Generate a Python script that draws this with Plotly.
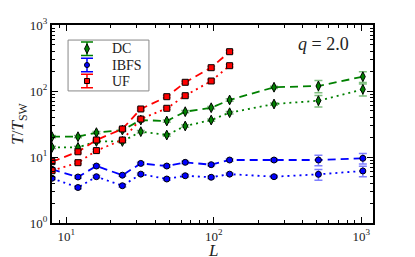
import numpy as np
import plotly.graph_objects as go

# ---- data ----
L_all = [8, 12, 16, 24, 32, 48, 64, 96, 128, 256, 512, 1024]
L_uf = [8, 12, 16, 24, 32, 48, 64, 96, 128]

dc_dash = [20.3, 20.3, 23.4, 25.6, 36.3, 35.1, 48.6, 55.8, 73.1, 114, 119, 165]
dc_dash_err = [0.8, 0.8, 0.9, 1.0, 1.4, 1.4, 1.9, 2.2, 2.9, 4.5, 25, 30]
dc_dot = [14.0, 14.0, 17.2, 17.2, 24.2, 21.5, 29.5, 36.3, 46.9, 63.5, 71.3, 106]
dc_dot_err = [0.6, 0.6, 0.7, 0.7, 1.0, 0.9, 1.2, 1.5, 1.9, 2.5, 14, 22]

ibfs_dash = [6.5, 4.98, 7.3, 5.3, 8.0, 7.3, 8.3, 7.65, 9.0, 9.0, 9.0, 9.55]
ibfs_dash_err = [0.26, 0.2, 0.3, 0.21, 0.32, 0.3, 0.33, 0.3, 0.36, 0.4, 1.6, 1.7]
ibfs_dot = [4.76, 3.45, 5.03, 3.67, 5.5, 4.64, 5.2, 4.93, 5.5, 5.03, 5.46, 6.14]
ibfs_dot_err = [0.19, 0.14, 0.2, 0.15, 0.22, 0.19, 0.21, 0.2, 0.22, 0.2, 1.0, 1.1]

uf_dash = [8.5, 12.0, 18.1, 26.6, 53.4, 82, 135.5, 225.5, 394]
uf_dash_err = [0.34, 0.5, 0.7, 1.1, 2.1, 3.3, 5.4, 10, 18]
uf_dot = [6.2, 8.2, 12.5, 18.1, 37.6, 54.7, 84.9, 141.8, 241.7]
uf_dot_err = [0.25, 0.33, 0.5, 0.7, 1.5, 2.2, 3.4, 6.5, 11]

x_tickvals = [10, 100, 1000]
x_ticktext = ["10<sup>1</sup>", "10<sup>2</sup>", "10<sup>3</sup>"]
y_tickvals = [1, 10, 100, 1000]
y_ticktext = ["10<sup>0</sup>", "10<sup>1</sup>", "10<sup>2</sup>", "10<sup>3</sup>"]

legend_names = ["DC", "IBFS", "UF"]

FONT = "Liberation Serif"
GREEN, BLUE, RED = "#008000", "#0000ff", "#ff0000"
GREEN_E, BLUE_E, RED_E = "rgba(0,128,0,0.5)", "rgba(0,0,255,0.5)", "rgba(255,0,0,0.5)"

# minor tick positions (2..9 of each decade)
minor_vals = [m * 10 ** e for e in range(0, 4) for m in range(2, 10)]

fig = go.Figure()

def add_series(x, y, err, color, ecolor, symbol, msize, dash):
    fig.add_trace(go.Scatter(
        x=x, y=y, mode="lines+markers",
        line=dict(color=color, width=1.8, dash=dash),
        marker=dict(symbol=symbol, size=msize, color=color,
                    line=dict(color="black", width=1)),
        error_y=dict(type="data", array=err, visible=True,
                     color=ecolor, thickness=1.5, width=4),
        showlegend=False,
    ))

DASH = "8px,5px"
DOT = "2px,4px"
add_series(L_all, dc_dash, dc_dash_err, GREEN, GREEN_E, "diamond-tall", 7, DASH)
add_series(L_all, dc_dot, dc_dot_err, GREEN, GREEN_E, "diamond-tall", 7, DOT)
add_series(L_all, ibfs_dash, ibfs_dash_err, BLUE, BLUE_E, "circle", 6, DASH)
add_series(L_all, ibfs_dot, ibfs_dot_err, BLUE, BLUE_E, "circle", 6, DOT)
add_series(L_uf, uf_dash, uf_dash_err, RED, RED_E, "square", 6, DASH)
add_series(L_uf, uf_dot, uf_dot_err, RED, RED_E, "square", 6, DOT)

# ---- manual legend on an overlay axis (0..1) ----
leg_x = 0.109
leg_y = [0.880, 0.798, 0.717]
leg_colors = [GREEN, BLUE, RED]
leg_symbols = ["diamond-tall", "circle", "square"]
leg_sizes = [7, 5, 5]
for yy, c, s, ms in zip(leg_y, leg_colors, leg_symbols, leg_sizes):
    fig.add_trace(go.Scatter(
        x=[leg_x], y=[yy], mode="markers", xaxis="x2", yaxis="y2",
        marker=dict(symbol=s, size=ms, color=c, line=dict(color="black", width=1)),
        error_y=dict(type="data", array=[0.034], visible=True, color=c,
                     thickness=1.5, width=6),
        showlegend=False, hoverinfo="skip", cliponaxis=False,
    ))
for yy, name in zip(leg_y, legend_names):
    fig.add_annotation(xref="x2", yref="y2", x=0.182, y=yy, text=name,
                       showarrow=False, xanchor="left", yanchor="middle",
                       font=dict(family=FONT, size=14, color="#222"))

fig.add_shape(type="rect", xref="paper", yref="paper",
              x0=0.050, x1=0.302, y0=0.667, y1=0.924,
              line=dict(color="#888", width=1), fillcolor="rgba(255,255,255,0.8)",
              layer="below")

fig.add_annotation(xref="paper", yref="paper", x=0.845, y=0.905,
                   text="<i>q</i> = 2.0", showarrow=False,
                   xanchor="center", yanchor="middle",
                   font=dict(family=FONT, size=18, color="#222"))

# x-axis title as annotation
fig.add_annotation(xref="paper", yref="paper", x=0.502, y=-0.138,
                   text="<i>L</i>", showarrow=False,
                   xanchor="center", yanchor="middle",
                   font=dict(family=FONT, size=17, color="#222"))

axis_common = dict(
    type="log", showgrid=False, zeroline=False, automargin=False,
    showline=True, linecolor="black", linewidth=2, mirror="ticks",
    ticks="inside", ticklen=6, tickwidth=1, tickcolor="black",
    minor=dict(ticks="inside", ticklen=3, tickwidth=1, tickcolor="black",
               showgrid=False, tickmode="array", tickvals=minor_vals),
    tickfont=dict(family=FONT, size=13, color="#222"),
)

# page body has an 8px default margin: size/margins compensate for it
fig.update_layout(
    width=407, height=249,
    margin=dict(l=44, r=42, t=17, b=34),
    paper_bgcolor="white", plot_bgcolor="white",
    xaxis=dict(axis_common, range=[np.log10(8), np.log10(1200)],
               tickmode="array", tickvals=x_tickvals, ticktext=x_ticktext),
    yaxis=dict(axis_common, range=[0, 3],
               tickmode="array", tickvals=y_tickvals, ticktext=y_ticktext,
               title=dict(text="<i>T</i>/<i>T</i><sub>SW</sub>",
                          font=dict(family=FONT, size=17, color="#222"), standoff=2)),
    xaxis2=dict(overlaying="x", range=[0, 1], visible=False, fixedrange=True),
    yaxis2=dict(overlaying="y", range=[0, 1], visible=False, fixedrange=True),
    showlegend=False,
)

fig.write_html("out.html")
